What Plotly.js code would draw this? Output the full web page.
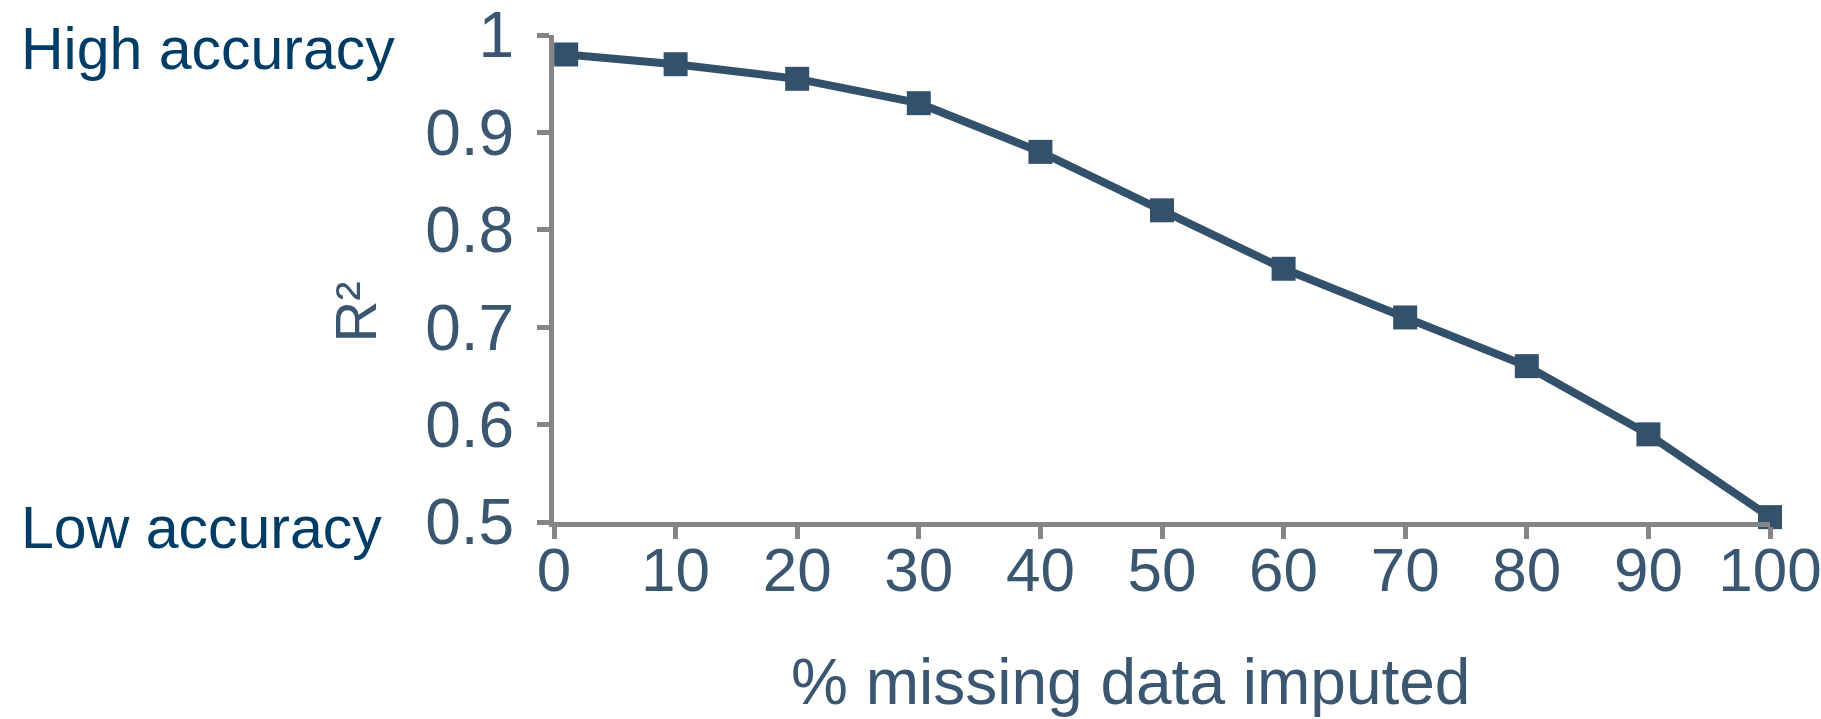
<!DOCTYPE html>
<html>
<head>
<meta charset="utf-8">
<script src="https://cdn.plot.ly/plotly-3.0.1.min.js"></script>
<style>html,body{margin:0;padding:0;background:#fff;}#chart{width:1821px;height:719px;}</style>
</head>
<body>
<div id="chart"></div>
<script>
var pctMissing = [1, 10, 20, 30, 40, 50, 60, 70, 80, 90, 100];
var rSquared = [0.98, 0.97, 0.955, 0.93, 0.88, 0.82, 0.76, 0.71, 0.66, 0.59, 0.505];
var xTicks = [0, 10, 20, 30, 40, 50, 60, 70, 80, 90, 100];
var yTicks = [0.5, 0.6, 0.7, 0.8, 0.9, 1];
var yTickLabels = ['0.5', '0.6', '0.7', '0.8', '0.9', '1'];

var seriesColor = '#34516b';
var textColor = '#3a5670';
var axisColor = '#858585';

var trace = {
  x: pctMissing, y: rSquared, type: 'scatter', mode: 'lines+markers',
  line: {color: seriesColor, width: 8},
  marker: {symbol: 'square', size: 24, color: seriesColor},
  cliponaxis: false, hoverinfo: 'x+y'
};

var layout = {
  width: 1821, height: 719,
  margin: {l: 554, r: 51, t: 35, b: 197},
  paper_bgcolor: '#fff', plot_bgcolor: '#fff',
  showlegend: false,
  font: {family: 'Liberation Sans, Arial, sans-serif', color: textColor},
  xaxis: {
    range: [0, 100], tickvals: xTicks, ticktext: xTicks.map(String),
    showgrid: false, zeroline: false, showline: true, linecolor: axisColor, linewidth: 5,
    ticks: 'outside', ticklen: 12, tickwidth: 5, tickcolor: axisColor,
    tickfont: {size: 62, color: textColor},
    ticklabelstandoff: -22, ticklabeloverflow: 'allow'
  },
  yaxis: {
    range: [0.5, 1], tickvals: yTicks, ticktext: yTickLabels,
    showgrid: false, zeroline: false, showline: true, linecolor: axisColor, linewidth: 5,
    ticks: 'outside', ticklen: 12, tickwidth: 5, tickcolor: axisColor,
    tickfont: {size: 64, color: textColor},
    ticklabelstandoff: 10, ticklabeloverflow: 'allow'
  },
  annotations: [
    {text: 'High accuracy', xref: 'paper', yref: 'paper', x: -554/1216 + 19/1216, y: 1.0 - 14/487,
     xanchor: 'left', yanchor: 'middle', showarrow: false, font: {size: 59, color: '#003d66'}},
    {text: 'Low accuracy', xref: 'paper', yref: 'paper', x: -554/1216 + 19/1216, y: -6/487,
     xanchor: 'left', yanchor: 'middle', showarrow: false, font: {size: 59, color: '#003d66'}},
    {text: 'R²', xref: 'paper', yref: 'paper', x: -198/1216, y: 0.43, textangle: -90,
     xanchor: 'center', yanchor: 'middle', showarrow: false, font: {size: 58, color: textColor}},
    {text: '% missing data imputed', xref: 'paper', yref: 'paper', x: 0.474, y: -160/487,
     xanchor: 'center', yanchor: 'middle', showarrow: false,
     font: {size: 64, color: textColor}}
  ]
};

Plotly.newPlot('chart', [trace], layout, {displayModeBar: false, staticPlot: true});
</script>
</body>
</html>
